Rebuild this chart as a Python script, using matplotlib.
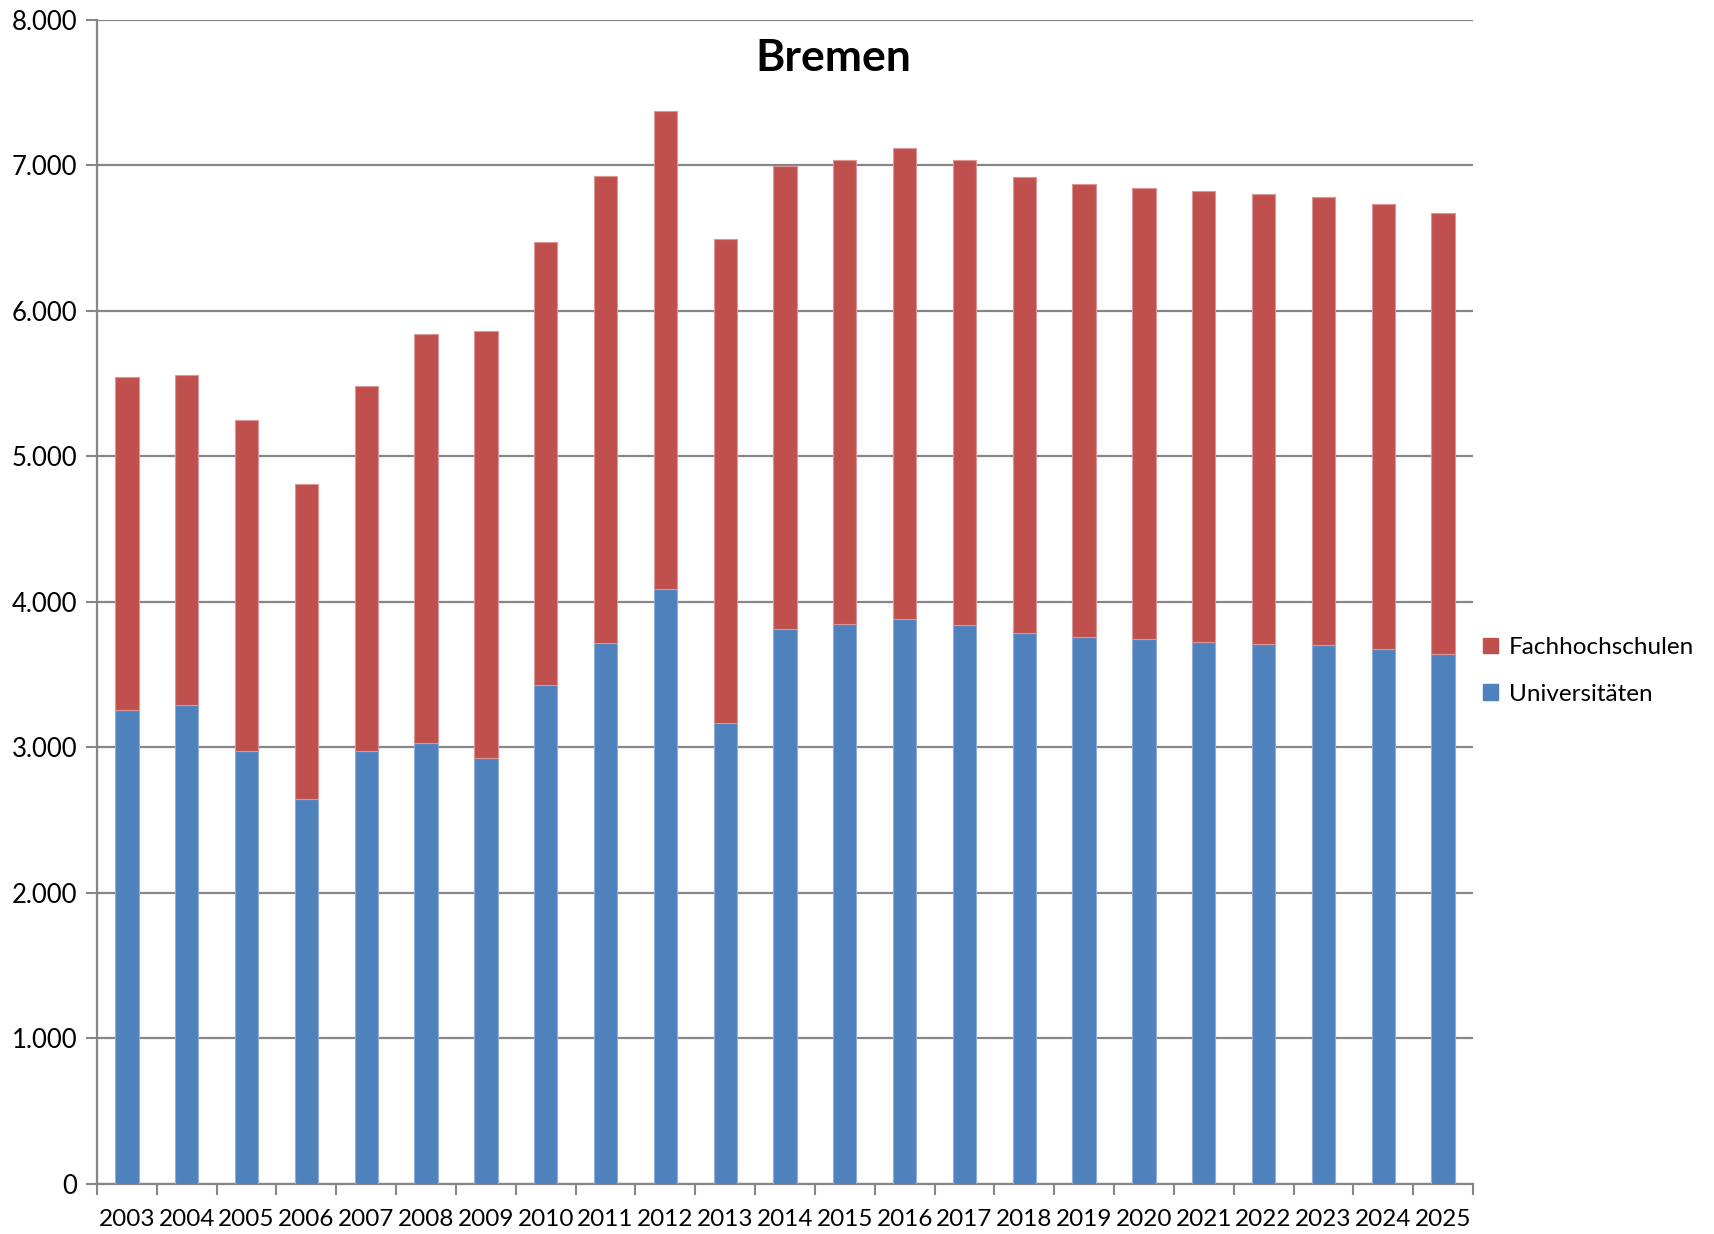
import matplotlib
matplotlib.use("Agg")
import matplotlib.pyplot as plt
from matplotlib.ticker import FuncFormatter, FixedLocator
from matplotlib.patches import Patch

years = [str(y) for y in range(2003, 2026)]
universitaeten = [3254, 3291, 2977, 2647, 2977, 3029, 2924, 3426, 3719, 4086, 3164,
                  3816, 3846, 3884, 3839, 3786, 3756, 3741, 3726, 3711, 3704, 3674, 3644]
gesamt = [5541, 5556, 5248, 4806, 5481, 5841, 5863, 6471, 6928, 7370, 6493,
          6995, 7033, 7115, 7033, 6920, 6868, 6845, 6823, 6800, 6778, 6733, 6673]
fachhochschulen = [g - u for g, u in zip(gesamt, universitaeten)]

blue = "#4F81BD"
red = "#C0504D"
grid = "#868686"

plt.rcParams['font.family'] = ['Lato', 'DejaVu Sans']

fig = plt.figure(figsize=(17.14, 12.34), dpi=100)
ax = fig.add_axes([97/1714, 1 - 1184/1234, (1473-97)/1714, (1184-19.5)/1234])

x = list(range(len(years)))
ax.bar(x, universitaeten, width=0.39, color=blue, edgecolor="#8FAEDA", linewidth=0.8, zorder=3)
ax.bar(x, fachhochschulen, bottom=universitaeten, width=0.39, color=red,
       edgecolor="#DA9796", linewidth=0.8, zorder=3)

ax.set_xlim(-0.5, len(years) - 0.5)
ax.set_ylim(0, 8000)
ax.set_yticks(range(0, 8001, 1000))
ax.yaxis.set_major_formatter(FuncFormatter(lambda v, p: f"{int(v):,}".replace(",", ".")))
ax.yaxis.grid(True, color=grid, linewidth=1.6, zorder=0)
ax.set_axisbelow(True)

ax.set_xticks(x)
ax.set_xticklabels(years)
ax.xaxis.set_minor_locator(FixedLocator([i - 0.5 for i in range(len(years) + 1)]))
ax.tick_params(axis='x', which='major', length=0, pad=18, labelsize=17.5)
ax.tick_params(axis='x', which='minor', length=8, width=1.5, color=grid, direction='out')
ax.tick_params(axis='y', length=8, width=1.5, color=grid, direction='out', labelsize=18.5, pad=6)

for s in ['top', 'right']:
    ax.spines[s].set_visible(False)
for s in ['left', 'bottom']:
    ax.spines[s].set_color(grid)
    ax.spines[s].set_linewidth(1.6)

fig.text(833/1714, 1 - 58/1234, "Bremen", ha='center', va='center',
         fontsize=32, fontweight='bold')

handles = [Patch(facecolor=red, edgecolor=red), Patch(facecolor=blue, edgecolor=blue)]
fig.legend(handles, ["Fachhochschulen", "Universitäten"], loc='center left',
           bbox_to_anchor=(1483/1714, 1 - 671/1234), frameon=False, fontsize=17.5,
           handlelength=0.6, handleheight=0.6, handletextpad=0.45, labelspacing=1.05,
           borderaxespad=0, borderpad=0)

fig.savefig("out.png", dpi=100)
